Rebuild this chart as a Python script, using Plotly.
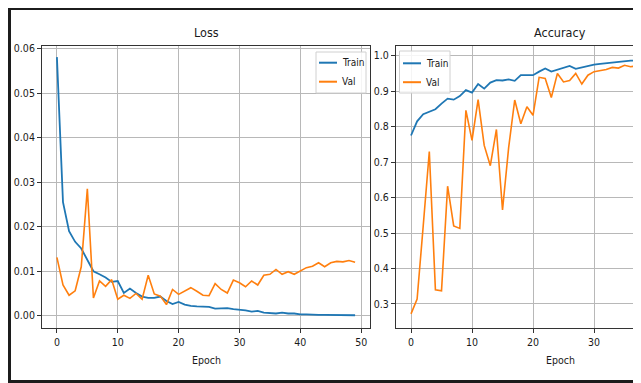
import plotly.graph_objects as go

epochs = list(range(50))

loss_train = [0.0581, 0.0255, 0.0190, 0.0166, 0.0151, 0.0125, 0.0100, 0.0093, 0.0086, 0.0076,
              0.0078, 0.0051, 0.0061, 0.0051, 0.0043, 0.0040, 0.0040, 0.0043, 0.0033, 0.0026,
              0.0031, 0.0025, 0.0022, 0.0021, 0.0021, 0.0020, 0.0016, 0.0017, 0.0017, 0.0015,
              0.0014, 0.0012, 0.0009, 0.0011, 0.0007, 0.0006, 0.0005, 0.0007, 0.0005, 0.0005,
              0.0003, 0.0003, 0.0002, 0.0002, 0.0002, 0.0002, 0.0001, 0.0001, 0.0001, 0.0001]
loss_val = [0.0131, 0.0069, 0.0046, 0.0056, 0.0110, 0.0285, 0.0040, 0.0078, 0.0066, 0.0081,
            0.0037, 0.0046, 0.0039, 0.0050, 0.0037, 0.0091, 0.0049, 0.0044, 0.0025, 0.0059,
            0.0048, 0.0055, 0.0063, 0.0055, 0.0046, 0.0045, 0.0072, 0.0059, 0.0051, 0.0080,
            0.0074, 0.0065, 0.0078, 0.0069, 0.0091, 0.0093, 0.0104, 0.0093, 0.0099, 0.0093,
            0.0101, 0.0108, 0.0111, 0.0119, 0.0110, 0.0119, 0.0122, 0.0121, 0.0124, 0.0120]
acc_train = [0.775, 0.815, 0.835, 0.841, 0.849, 0.865, 0.879, 0.876, 0.886, 0.903,
             0.896, 0.920, 0.907, 0.924, 0.931, 0.930, 0.933, 0.929, 0.945, 0.945,
             0.945, 0.955, 0.964, 0.955, 0.961, 0.967, 0.971, 0.963, 0.967, 0.972,
             0.975, 0.977, 0.979, 0.980, 0.983, 0.985, 0.986, 0.986, 0.987, 0.987,
             0.988, 0.988, 0.989, 0.989, 0.989, 0.990, 0.990, 0.990, 0.991, 0.991]
acc_val = [0.272, 0.314, 0.520, 0.730, 0.340, 0.337, 0.632, 0.520, 0.513, 0.846,
           0.761, 0.876, 0.747, 0.690, 0.792, 0.565, 0.740, 0.875, 0.808, 0.856,
           0.832, 0.939, 0.936, 0.882, 0.950, 0.926, 0.930, 0.950, 0.920, 0.945,
           0.955, 0.958, 0.961, 0.967, 0.965, 0.973, 0.969, 0.971, 0.972, 0.974,
           0.973, 0.975, 0.976, 0.975, 0.977, 0.976, 0.978, 0.977, 0.978, 0.978]

series_names = ["Train", "Val"]
loss_yticks = [0.00, 0.01, 0.02, 0.03, 0.04, 0.05, 0.06]
acc_yticks = [0.3, 0.4, 0.5, 0.6, 0.7, 0.8, 0.9, 1.0]
x_ticks = [0, 10, 20, 30, 40, 50]
panel_titles = ["Loss", "Accuracy"]
x_label = "Epoch"

BLUE = "#1f77b4"
ORANGE = "#ff7f0e"
OFF = 8                      # page body margin of the browser
W, H = 641 - OFF, 383 - OFF  # figure ends exactly at the window edge
FONT = "DejaVu Sans Condensed, DejaVu Sans, sans-serif"
TXT = "#1a1a1a"


def px(x):
    """screen pixel x -> paper fraction"""
    return (x - OFF) / W


def py(y):
    """screen pixel y -> paper fraction"""
    return 1 - (y - OFF) / H


fig = go.Figure()
fig.add_trace(go.Scatter(x=epochs, y=loss_train, mode="lines", name=series_names[0],
                         line=dict(color=BLUE, width=1.8), xaxis="x", yaxis="y"))
fig.add_trace(go.Scatter(x=epochs, y=loss_val, mode="lines", name=series_names[1],
                         line=dict(color=ORANGE, width=1.6), xaxis="x", yaxis="y"))
fig.add_trace(go.Scatter(x=epochs, y=acc_train, mode="lines", name=series_names[0],
                         line=dict(color=BLUE, width=1.8), xaxis="x2", yaxis="y2"))
fig.add_trace(go.Scatter(x=epochs, y=acc_val, mode="lines", name=series_names[1],
                         line=dict(color=ORANGE, width=1.6), xaxis="x2", yaxis="y2"))

axis_common = dict(showgrid=True, gridcolor="#b8b8b8", gridwidth=0.9, zeroline=False,
                   showline=True, linecolor="#333333", linewidth=1,
                   ticks="outside", ticklen=4, tickcolor="#333333", tickwidth=0.8,
                   tickfont=dict(family=FONT, size=10.5, color=TXT),
                   automargin=False)

ydom = [py(328), py(46)]
fig.update_layout(
    width=W, height=H,
    margin=dict(l=0, r=0, t=0, b=0),
    paper_bgcolor="#1c1c1c",
    plot_bgcolor="white",
    showlegend=False,
    xaxis=dict(domain=[px(42), px(370)], range=[-2.45, 51.45], tickvals=x_ticks,
               anchor="y", mirror=True, **axis_common),
    yaxis=dict(domain=ydom, range=[-0.00276, 0.0606], tickvals=loss_yticks, tickformat=".2f",
               anchor="x", mirror=True, **axis_common),
    xaxis2=dict(domain=[px(396), 1.0], range=[-2.46, 37.7], tickvals=x_ticks,
                anchor="y2", mirror=True, **axis_common),
    yaxis2=dict(domain=ydom, range=[0.2323, 1.0273], tickvals=acc_yticks, tickformat=".1f",
                anchor="x2", mirror=False, **axis_common),
)

shapes = [
    # white figure canvas inside the dark screenshot frame
    dict(type="rect", xref="paper", yref="paper", x0=px(11), x1=1.0, y0=py(380), y1=py(10),
         fillcolor="white", line=dict(width=0), layer="below"),
]


def ann(text, x, y, size, xanchor="center"):
    return dict(text=text, x=px(x), y=py(y), xref="paper", yref="paper",
                xanchor=xanchor, yanchor="middle", showarrow=False,
                font=dict(family=FONT, size=size, color=TXT))


annotations = [
    ann(panel_titles[0], 206, 33, 12.5),
    ann(panel_titles[1], 560, 33, 12.5),
    ann(x_label, 206, 360, 10.5),
    ann(x_label, 560, 360, 10.5),
]

# legends (box + handle + label) for both panels
legend_specs = [
    dict(box=(316, 52, 366, 93), hx=(319, 337), tx=340, rows=(62.7, 81.7)),
    dict(box=(399.5, 51, 450, 93), hx=(403, 421), tx=424, rows=(63.3, 82.2)),
]
for spec in legend_specs:
    bx0, by0, bx1, by1 = spec["box"]
    shapes.append(dict(type="rect", xref="paper", yref="paper", x0=px(bx0), x1=px(bx1),
                       y0=py(by1), y1=py(by0), fillcolor="rgba(255,255,255,0.85)",
                       line=dict(color="#d0d0d0", width=1), layer="above"))
    for name, color, yy in zip(series_names, [BLUE, ORANGE], spec["rows"]):
        shapes.append(dict(type="line", xref="paper", yref="paper", x0=px(spec["hx"][0]),
                           x1=px(spec["hx"][1]), y0=py(yy), y1=py(yy),
                           line=dict(color=color, width=2), layer="above"))
        annotations.append(ann(name, spec["tx"], yy, 10, xanchor="left"))

fig.update_layout(shapes=shapes, annotations=annotations)
fig.write_html("out.html")
